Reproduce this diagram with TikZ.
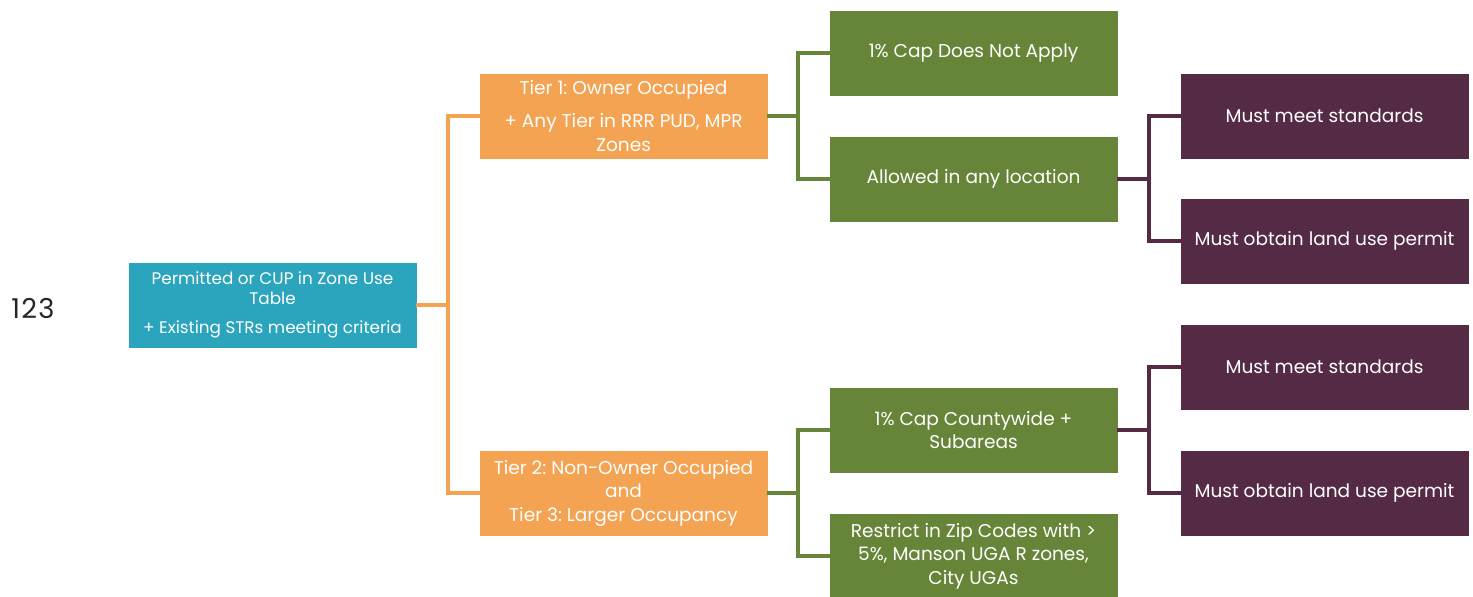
\documentclass[tikz,border=0pt]{standalone}
\usepackage{fontspec}
\setmainfont{Poppins}
\definecolor{cteal}{HTML}{2AA5BD}
\definecolor{corange}{HTML}{F4A352}
\definecolor{cgreen}{HTML}{668538}
\definecolor{cpurple}{HTML}{552A45}
\definecolor{cnum}{HTML}{262626}
\begin{document}
\frenchspacing
\begin{tikzpicture}[x=0.75pt,y=-0.75pt,
  box/.style={minimum width=216.75pt, minimum height=64.5pt, inner sep=2pt, align=center,
    font=\fontsize{13.9}{17.6}\selectfont, text=white, draw=white, line width=0.5pt},
  rootbox/.style={box, fill=cteal, font=\fontsize{12.6}{15}\selectfont},
  tierbox/.style={box, fill=corange},
  greenbox/.style={box, fill=cgreen},
  purplebox/.style={box, fill=cpurple},
  link/.style={line width=2.6pt, line cap=rect},
]
\useasboundingbox (0,0) rectangle (1473,596);
\node[text=cnum, font=\fontsize{20.5}{24}\selectfont, anchor=center] (num) at (33,308) {1\kern1pt2\kern1pt3};

\node[rootbox] (root) at (272.5,305) {Permitted or CUP in Zone Use\\Table\\[7pt]+ Existing STRs meeting criteria};
\node[tierbox] (t1) at (623.5,116) {Tier 1: Owner Occupied\\[7pt]+ Any Tier in RRR PUD, MPR\\Zones};
\node[tierbox] (t2) at (623.5,493) {Tier 2: Non-Owner Occupied\\and\\Tier 3: Larger Occupancy};
\node[greenbox] (g1) at (973.5,53) {1\% Cap Does Not Apply};
\node[greenbox] (g2) at (973.5,179) {Allowed in any location};
\node[greenbox] (g3) at (973.5,430) {1\% Cap Countywide +\\Subareas};
\node[greenbox] (g4) at (973.5,556) {Restrict in Zip Codes with >\\5\%, Manson UGA R zones,\\City UGAs};
\node[purplebox] (p1) at (1324.5,116) {Must meet standards};
\node[purplebox] (p2) at (1324.5,241) {Must obtain land use permit};
\node[purplebox] (p3) at (1324.5,367) {Must meet standards};
\node[purplebox] (p4) at (1324.5,493) {Must obtain land use permit};

\coordinate (j0) at (448,305);
\coordinate (j1) at (798,116);
\coordinate (j2) at (1149,179);
\coordinate (j3) at (798,493);
\coordinate (j4) at (1149,430);

\draw[link, corange] (root.east) -- (j0);
\draw[link, corange] (j0) |- (t1.west);
\draw[link, corange] (j0) |- (t2.west);

\draw[link, cgreen] (t1.east) -- (j1);
\draw[link, cgreen] (j1) |- (g1.west);
\draw[link, cgreen] (j1) |- (g2.west);
\draw[link, cgreen] (t2.east) -- (j3);
\draw[link, cgreen] (j3) |- (g3.west);
\draw[link, cgreen] (j3) |- (g4.west);

\draw[link, cpurple] (g2.east) -- (j2);
\draw[link, cpurple] (j2) |- (p1.west);
\draw[link, cpurple] (j2) |- (p2.west);
\draw[link, cpurple] (g3.east) -- (j4);
\draw[link, cpurple] (j4) |- (p3.west);
\draw[link, cpurple] (j4) |- (p4.west);
\end{tikzpicture}
\end{document}
